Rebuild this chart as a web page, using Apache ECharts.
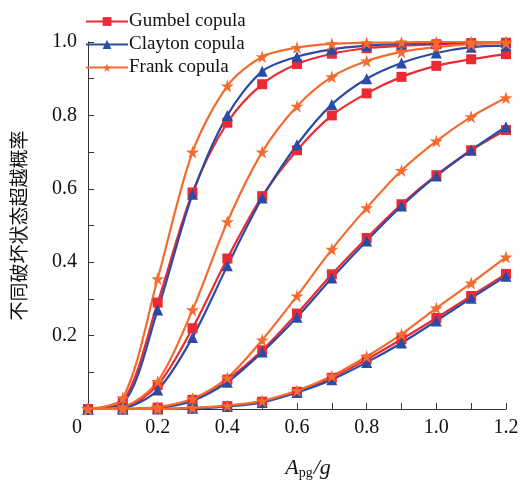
<!DOCTYPE html>
<html>
<head>
<meta charset="utf-8">
<script src="https://cdn.jsdelivr.net/npm/echarts@6/dist/echarts.min.js"></script>
<style>
  html, body { margin: 0; padding: 0; background: #fff; }
  #chart { width: 523px; height: 480px; }
</style>
</head>
<body>
<div id="chart"></div>
<script>
// x values: peak ground acceleration / g
const pga = [0, 0.1, 0.2, 0.3, 0.4, 0.5, 0.6, 0.7, 0.8, 0.9, 1.0, 1.1, 1.2]

// exceedance probability, damage states 1..4, per copula
const gumbel1 = [0, 0.02, 0.29, 0.59, 0.78, 0.885, 0.94, 0.968, 0.983, 0.99, 0.994, 0.997, 0.998]
const gumbel2 = [0, 0.004, 0.065, 0.22, 0.41, 0.58, 0.705, 0.80, 0.86, 0.905, 0.935, 0.953, 0.967]
const gumbel3 = [0, 0, 0.004, 0.025, 0.08, 0.16, 0.26, 0.367, 0.466, 0.558, 0.637, 0.705, 0.76]
const gumbel4 = [0, 0, 0, 0.002, 0.008, 0.02, 0.047, 0.085, 0.135, 0.19, 0.248, 0.308, 0.368]

const clayton1 = [0, 0.015, 0.27, 0.585, 0.80, 0.92, 0.96, 0.98, 0.99, 0.995, 0.997, 0.998, 0.999]
const clayton2 = [0, 0.003, 0.052, 0.195, 0.39, 0.575, 0.72, 0.83, 0.90, 0.943, 0.97, 0.986, 0.99]
const clayton3 = [0, 0, 0.003, 0.022, 0.073, 0.155, 0.25, 0.357, 0.458, 0.553, 0.635, 0.705, 0.769]
const clayton4 = [0, 0, 0, 0.002, 0.007, 0.018, 0.045, 0.08, 0.127, 0.18, 0.24, 0.302, 0.362]

const frank1 = [0, 0.03, 0.355, 0.70, 0.88, 0.96, 0.985, 0.995, 0.998, 0.999, 1.0, 1.0, 1.0]
const frank2 = [0, 0.006, 0.075, 0.27, 0.51, 0.70, 0.825, 0.905, 0.948, 0.973, 0.986, 0.994, 0.997]
const frank3 = [0, 0, 0.005, 0.028, 0.085, 0.188, 0.308, 0.435, 0.548, 0.65, 0.73, 0.796, 0.848]
const frank4 = [0, 0, 0, 0.003, 0.009, 0.022, 0.05, 0.09, 0.143, 0.204, 0.275, 0.343, 0.414]

const copulaNames = ['Gumbel copula', 'Clayton copula', 'Frank copula']
const xTicks = [0, 0.2, 0.4, 0.6, 0.8, 1.0, 1.2]

const colors = { 'Gumbel copula': '#ec2a33', 'Clayton copula': '#2b4ca4', 'Frank copula': '#f36b2e' }
const symbols = {
  'Gumbel copula': 'rect',
  'Clayton copula': 'triangle',
  'Frank copula': 'path://M50,0 L61,35 L98,35 L68,57 L79,92 L50,70 L21,92 L32,57 L2,35 L39,35 Z'
}
const symbolSizes = { 'Gumbel copula': 10, 'Clayton copula': 11, 'Frank copula': 13 }

const groups = [
  ['Gumbel copula', [gumbel1, gumbel2, gumbel3, gumbel4]],
  ['Clayton copula', [clayton1, clayton2, clayton3, clayton4]],
  ['Frank copula', [frank1, frank2, frank3, frank4]]
]

const series = []
groups.forEach(([name, sets]) => {
  sets.forEach(vals => {
    series.push({
      name,
      type: 'line',
      data: pga.map((x, i) => [x, vals[i]]),
      smooth: 0.3,
      symbol: symbols[name],
      symbolSize: symbolSizes[name],
      showAllSymbol: true,
      lineStyle: { color: colors[name], width: 2.2 },
      itemStyle: { color: colors[name] },
      emphasis: { disabled: true }
    })
  })
})

const chart = echarts.init(document.getElementById('chart'))
const serif = '"Liberation Serif", "Times New Roman", serif'

chart.setOption({
  animation: false,
  grid: { left: 88, right: 17, top: 42, bottom: 71, outerBoundsMode: 'none' },
  legend: {
    data: copulaNames,
    orient: 'vertical',
    left: 80,
    top: 7,
    itemWidth: 42,
    itemHeight: 11,
    itemGap: 4,
    textStyle: { fontFamily: serif, fontSize: 19, color: '#111', padding: [0, 0, 0, -4] }
  },
  xAxis: {
    type: 'value',
    min: 0,
    max: 1.2,
    interval: 0.2,
    name: '{i|A}{s|pg}{i|/g}',
    nameLocation: 'middle',
    nameGap: 47,
    nameTextStyle: {
      padding: [0, 0, 0, 22],
      rich: {
        i: { fontFamily: serif, fontStyle: 'italic', fontSize: 22, color: '#111' },
        s: { fontFamily: serif, fontSize: 14, color: '#111', verticalAlign: 'bottom', padding: [10, 1, 0, 0] }
      }
    },
    splitLine: { show: false },
    axisLine: { lineStyle: { color: '#333', width: 1 } },
    axisTick: { inside: true, length: 6, lineStyle: { color: '#333' } },
    minorTick: { show: true, splitNumber: 2, length: 6, lineStyle: { color: '#333' } },
    axisLabel: {
      margin: 9,
      fontFamily: serif,
      fontSize: 20,
      color: '#111',
      customValues: xTicks,
      formatter: v => v === 0 ? '{z|0}' : v.toFixed(1),
      rich: { z: { fontFamily: serif, fontSize: 20, color: '#111', padding: [0, 22, 0, 0] } }
    }
  },
  yAxis: {
    type: 'value',
    min: 0,
    max: 1.0,
    interval: 0.2,
    name: '不同破坏状态超越概率',
    nameLocation: 'middle',
    nameGap: 60,
    nameTextStyle: { fontFamily: '"Noto Sans CJK SC", sans-serif', fontSize: 19, color: '#111' },
    splitLine: { show: false },
    axisLine: { show: true, lineStyle: { color: '#333', width: 1 } },
    axisTick: { show: true, inside: true, length: 6, lineStyle: { color: '#333' } },
    minorTick: { show: true, splitNumber: 2, length: 6, lineStyle: { color: '#333' } },
    axisLabel: {
      margin: 11,
      fontFamily: serif,
      fontSize: 20,
      color: '#111',
      formatter: v => v === 0 ? '' : v.toFixed(1)
    }
  },
  series
})
</script>
</body>
</html>
